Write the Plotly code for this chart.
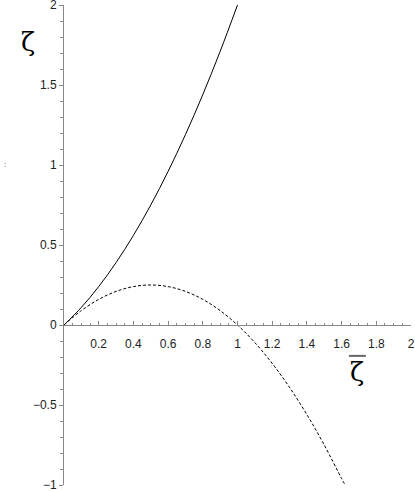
import plotly.graph_objects as go

# values
x_solid = [0.0, 0.1, 0.2, 0.3, 0.4, 0.5, 0.6, 0.7, 0.8, 0.9, 1.0]
y_solid = [0.0, 0.11, 0.24, 0.39, 0.56, 0.75, 0.96, 1.19, 1.44, 1.71, 2.0]

x_dash = [0.0, 0.1, 0.2, 0.3, 0.4, 0.5, 0.6, 0.7, 0.8, 0.9, 1.0,
          1.1, 1.2, 1.3, 1.4, 1.5, 1.6, 1.62]
y_dash = [0.0, 0.09, 0.16, 0.21, 0.24, 0.25, 0.24, 0.21, 0.16, 0.09, 0.0,
          -0.11, -0.24, -0.39, -0.56, -0.75, -0.96, -1.0]

x_tickvals = [0.2, 0.4, 0.6, 0.8, 1, 1.2, 1.4, 1.6, 1.8, 2]
x_ticktext = ["0.2", "0.4", "0.6", "0.8", "1", "1.2", "1.4", "1.6", "1.8", "2"]
y_tickvals = [-1, -0.5, 0, 0.5, 1, 1.5, 2]
y_ticktext = ["\u22121", "\u22120.5", "0", "0.5", "1", "1.5", "2"]

fig = go.Figure()
fig.add_trace(go.Scatter(x=x_solid, y=y_solid, mode="lines",
                         line=dict(color="black", width=1, shape="spline"),
                         showlegend=False, hoverinfo="skip", cliponaxis=False))
fig.add_trace(go.Scatter(x=x_dash, y=y_dash, mode="lines",
                         line=dict(color="black", width=1, shape="spline", dash="3px,2px"),
                         showlegend=False, hoverinfo="skip", cliponaxis=False))

axis_color = "#888888"
font_main = dict(family="Liberation Sans, Arial, sans-serif", size=12, color="#222222")

fig.update_layout(
    width=415, height=491,
    margin=dict(l=64, r=4, t=5, b=6),
    paper_bgcolor="white", plot_bgcolor="white",
    font=font_main,
    xaxis=dict(range=[0, 2], showgrid=False, zeroline=False, automargin=False,
               showline=True, linecolor=axis_color, linewidth=1,
               anchor="free", position=1/3,
               ticks="inside", ticklen=4, tickcolor=axis_color, tickwidth=1,
               tickvals=x_tickvals, ticktext=x_ticktext, ticklabelstandoff=8,
               ticklabeloverflow="allow",
               minor=dict(dtick=0.05, tick0=0, ticks="inside", ticklen=2,
                          tickcolor=axis_color, showgrid=False),
               fixedrange=True),
    yaxis=dict(range=[-1, 2], showgrid=False, zeroline=False, automargin=False,
               showline=True, linecolor=axis_color, linewidth=1,
               ticks="outside", ticklen=4, tickcolor=axis_color, tickwidth=1,
               tickvals=y_tickvals, ticktext=y_ticktext,
               ticklabeloverflow="allow",
               minor=dict(dtick=0.1, tick0=0, ticks="outside", ticklen=3,
                          tickcolor=axis_color, showgrid=False),
               fixedrange=True),
    annotations=[
        dict(text="\u03b6", xref="paper", yref="paper", x=-0.104, y=0.923,
             showarrow=False, font=dict(family="DejaVu Serif, serif", size=26, color="black"),
             xanchor="center", yanchor="middle"),
        dict(text="\u03b6", xref="paper", yref="paper", x=0.844, y=0.236,
             showarrow=False, font=dict(family="DejaVu Serif, serif", size=26, color="black"),
             xanchor="center", yanchor="middle"),
        dict(text=":", xref="paper", yref="paper", x=-0.179, y=0.667,
             showarrow=False, font=dict(family="Liberation Sans, sans-serif", size=8, color="#444444"),
             xanchor="left", yanchor="middle"),
    ],
    shapes=[
        # overline of the horizontal-axis label
        dict(type="line", xref="paper", yref="paper", x0=0.821, x1=0.870,
             y0=0.269, y1=0.269, line=dict(color="#666666", width=2)),
    ],
)

fig.write_html("out.html", config={"displayModeBar": False},
               post_script="document.body.style.margin='0';document.body.style.padding='0';")
